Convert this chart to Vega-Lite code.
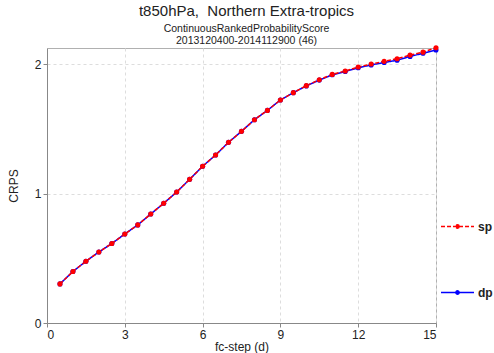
{
  "$schema": "https://vega.github.io/schema/vega-lite/v6.json",
  "width": 389,
  "height": 275,
  "autosize": "none",
  "padding": {"left": 47, "top": 48, "right": 58, "bottom": 30},
  "background": "white",
  "config": {
    "font": "Liberation Sans",
    "view": {"stroke": "#b0b0b0", "strokeWidth": 1},
    "axis": {
      "labelFont": "Liberation Sans", "titleFont": "Liberation Sans",
      "labelFontSize": 12, "titleFontSize": 12, "titleFontWeight": "normal",
      "labelColor": "#222", "titleColor": "#222",
      "domainColor": "#888", "tickColor": "#888", "tickSize": 4,
      "gridColor": "#dddddd", "gridDash": [3, 3], "gridWidth": 1
    }
  },
  "title": {
    "text": "t850hPa,\u00a0 Northern Extra-tropics",
    "subtitle": ["ContinuousRankedProbabilityScore", "2013120400-2014112900 (46)"],
    "fontSize": 15, "fontWeight": "normal", "color": "#222",
    "subtitleFontSize": 10.5, "subtitleColor": "#222", "subtitlePadding": 5, "subtitleLineHeight": 12,
    "anchor": "middle", "offset": -2, "dx": 5
  },
  "data": {
    "values": [
      {"step": 0.5, "sp": 0.302, "dp": 0.302},
      {"step": 1.0, "sp": 0.398, "dp": 0.398},
      {"step": 1.5, "sp": 0.477, "dp": 0.477},
      {"step": 2.0, "sp": 0.549, "dp": 0.549},
      {"step": 2.5, "sp": 0.614, "dp": 0.614},
      {"step": 3.0, "sp": 0.688, "dp": 0.688},
      {"step": 3.5, "sp": 0.758, "dp": 0.758},
      {"step": 4.0, "sp": 0.842, "dp": 0.842},
      {"step": 4.5, "sp": 0.925, "dp": 0.925},
      {"step": 5.0, "sp": 1.012, "dp": 1.012},
      {"step": 5.5, "sp": 1.110, "dp": 1.110},
      {"step": 6.0, "sp": 1.211, "dp": 1.211},
      {"step": 6.5, "sp": 1.298, "dp": 1.298},
      {"step": 7.0, "sp": 1.396, "dp": 1.396},
      {"step": 7.5, "sp": 1.481, "dp": 1.481},
      {"step": 8.0, "sp": 1.571, "dp": 1.571},
      {"step": 8.5, "sp": 1.643, "dp": 1.643},
      {"step": 9.0, "sp": 1.723, "dp": 1.723},
      {"step": 9.5, "sp": 1.780, "dp": 1.780},
      {"step": 10.0, "sp": 1.834, "dp": 1.832},
      {"step": 10.5, "sp": 1.880, "dp": 1.877},
      {"step": 11.0, "sp": 1.921, "dp": 1.918},
      {"step": 11.5, "sp": 1.947, "dp": 1.943},
      {"step": 12.0, "sp": 1.978, "dp": 1.972},
      {"step": 12.5, "sp": 2.001, "dp": 1.994},
      {"step": 13.0, "sp": 2.022, "dp": 2.013},
      {"step": 13.5, "sp": 2.042, "dp": 2.030},
      {"step": 14.0, "sp": 2.070, "dp": 2.060},
      {"step": 14.5, "sp": 2.093, "dp": 2.084},
      {"step": 15.0, "sp": 2.127, "dp": 2.109}
    ]
  },
  "transform": [{"fold": ["dp", "sp"], "as": ["series", "crps"]}],
  "encoding": {
    "x": {"field": "step", "type": "quantitative", "title": "fc-step (d)",
      "scale": {"domain": [0, 15], "nice": false},
      "axis": {"values": [0, 3, 6, 9, 12, 15], "titlePadding": 1, "labelPadding": 2}},
    "y": {"field": "crps", "type": "quantitative", "title": "CRPS",
      "scale": {"domain": [0, 2.125], "nice": false},
      "axis": {"values": [0, 1, 2], "titlePadding": 14}},
    "color": {"field": "series", "type": "nominal",
      "scale": {"domain": ["sp", "dp"], "range": ["#ff0000", "#0000ff"]},
      "legend": {
        "title": null, "orient": "none", "legendX": 393, "legendY": 161,
        "padding": 0,
        "symbolType": "M-1,0L1,0M0.1,0A0.1,0.1 0 1,1 -0.1,0A0.1,0.1 0 1,1 0.1,0Z",
        "symbolSize": 1089, "symbolStrokeWidth": 1.5,
        "labelFontSize": 12, "labelFontWeight": "bold", "labelColor": "#222", "labelOffset": 3,
        "rowPadding": 42,
        "encode": {"symbols": {"update": {"fill": {"scale": "color", "field": "value"}}}}
      }},
    "strokeDash": {"field": "series", "type": "nominal",
      "scale": {"domain": ["sp", "dp"], "range": [[4, 2], [1, 0]]},
      "legend": null},
    "order": {"field": "series", "sort": "ascending"}
  },
  "layer": [
    {"mark": {"type": "line", "strokeWidth": 1.5}},
    {"mark": {"type": "circle", "size": 26, "opacity": 1}, "encoding": {"strokeDash": {"value": [1, 0]}}}
  ]
}
